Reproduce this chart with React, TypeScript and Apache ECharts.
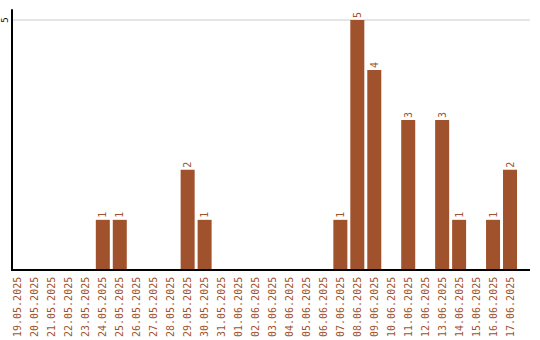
import React, { useEffect, useRef } from "react";
import * as echarts from "echarts";

const categories = [
  "19.05.2025", "20.05.2025", "21.05.2025", "22.05.2025", "23.05.2025",
  "24.05.2025", "25.05.2025", "26.05.2025", "27.05.2025", "28.05.2025",
  "29.05.2025", "30.05.2025", "31.05.2025", "01.06.2025", "02.06.2025",
  "03.06.2025", "04.06.2025", "05.06.2025", "06.06.2025", "07.06.2025",
  "08.06.2025", "09.06.2025", "10.06.2025", "11.06.2025", "12.06.2025",
  "13.06.2025", "14.06.2025", "15.06.2025", "16.06.2025", "17.06.2025",
];
const values = [
  0, 0, 0, 0, 0,
  1, 1, 0, 0, 0,
  2, 1, 0, 0, 0,
  0, 0, 0, 0, 1,
  5, 4, 0, 3, 0,
  3, 1, 0, 1, 2,
];
const yTickLabels = ["5"];

const COLOR = "#A0522D";
const FONT = "DejaVu Sans Mono";

export default function App() {
  const ref = useRef<HTMLDivElement>(null);
  useEffect(() => {
    if (!ref.current) return;
    const chart = echarts.init(ref.current, null, { renderer: "svg" });
    chart.setOption({
      animation: false,
      grid: { left: 8.5, right: 21.5, top: 10, bottom: 70, containLabel: false },
      xAxis: {
        type: "category",
        data: categories,
        axisLine: { show: false },
        axisTick: { show: false },
        axisLabel: {
          interval: 0,
          rotate: 90,
          margin: 7,
          color: COLOR,
          fontFamily: FONT,
          fontSize: 10,
        },
      },
      yAxis: {
        type: "value",
        min: 0,
        max: 5.2,
        interval: 5,
        offset: -2.5,
        axisLine: { show: true, lineStyle: { color: "#000", width: 2 } },
        axisTick: { show: false },
        splitLine: { show: false },
        axisLabel: {
          rotate: 90,
          margin: 3,
          color: "#000",
          fontFamily: FONT,
          fontSize: 9,
          formatter: (v: number) => (yTickLabels.includes(String(v)) ? String(v) : ""),
        },
      },
      series: [
        {
          type: "bar",
          data: values.map((v) => (v === 0 ? null : v)),
          barWidth: 14,
          itemStyle: { color: COLOR },
          label: {
            show: true,
            position: "top",
            rotate: 90,
            align: "left",
            verticalAlign: "middle",
            distance: 2,
            color: COLOR,
            fontFamily: FONT,
            fontSize: 10,
          },
        },
      ],
      graphic: [
        {
          type: "line",
          shape: { x1: 11, y1: 270, x2: 530, y2: 270 },
          style: { stroke: "#000", lineWidth: 2 },
          z: 10,
        },
        {
          type: "line",
          shape: { x1: 11, y1: 20, x2: 530, y2: 20 },
          style: { stroke: "#cccccc", lineWidth: 1 },
          z: 0,
        },
      ],
    });
    return () => chart.dispose();
  }, []);
  return <div ref={ref} style={{ width: 540, height: 340, position: "absolute", left: 0, top: 0 }} />;
}
